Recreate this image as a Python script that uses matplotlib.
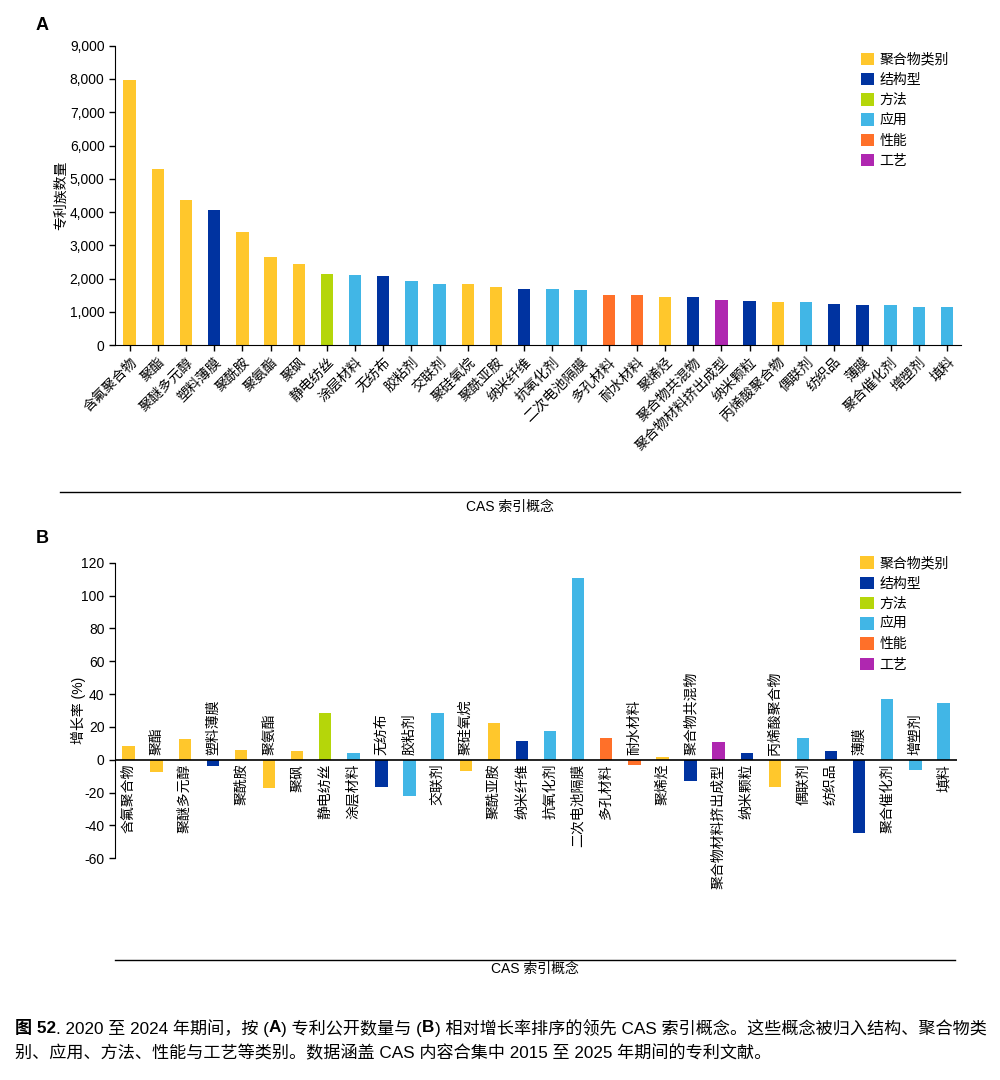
import numpy as np
import matplotlib
matplotlib.use("Agg")
import matplotlib.pyplot as plt
from matplotlib.patches import Patch
from matplotlib.lines import Line2D
from matplotlib.ticker import FuncFormatter

plt.rcParams['font.family'] = ['Liberation Sans', 'Noto Sans CJK SC', 'DejaVu Sans']
plt.rcParams['axes.unicode_minus'] = False

# data
concepts = ['含氟聚合物', '聚酯', '聚醚多元醇', '塑料薄膜', '聚酰胺', '聚氨酯', '聚砜', '静电纺丝',
            '涂层材料', '无纺布', '胶粘剂', '交联剂', '聚硅氧烷', '聚酰亚胺', '纳米纤维', '抗氧化剂',
            '二次电池隔膜', '多孔材料', '耐水材料', '聚烯烃', '聚合物共混物', '聚合物材料挤出成型',
            '纳米颗粒', '丙烯酸聚合物', '偶联剂', '纺织品', '薄膜', '聚合催化剂', '增塑剂', '填料']
category = ['聚合物类别', '聚合物类别', '聚合物类别', '结构型', '聚合物类别', '聚合物类别', '聚合物类别', '方法',
            '应用', '结构型', '应用', '应用', '聚合物类别', '聚合物类别', '结构型', '应用',
            '应用', '性能', '性能', '聚合物类别', '结构型', '工艺',
            '结构型', '聚合物类别', '应用', '结构型', '结构型', '应用', '应用', '应用']
patent_count = [7970, 5310, 4360, 4060, 3400, 2650, 2440, 2140, 2110, 2080, 1930, 1840, 1840, 1750,
                1690, 1690, 1660, 1510, 1510, 1450, 1450, 1360, 1330, 1300, 1300, 1240, 1210, 1210,
                1150, 1150]
growth = [8.6, -7.7, 12.8, -4.1, 6.1, -17.5, 5.1, 28.7, 4.3, -16.9, -21.8, 28.7, -7.1, 22.6,
          11.6, 17.7, 110.6, 13.4, -2.9, 1.8, -13.2, 10.6, 4.3, -16.9, 13.4, 5.5, -44.4, 36.7,
          -6.5, 34.8]

cat_names = ['聚合物类别', '结构型', '方法', '应用', '性能', '工艺']
cat_colors = ['#FFC72C', '#0033A0', '#B5D60A', '#41B6E6', '#FF7029', '#AF27B0']
cmap = dict(zip(cat_names, cat_colors))
colors = [cmap[c] for c in category]

x = np.arange(len(concepts))
fig = plt.figure(figsize=(10, 10.8), dpi=100)

def legend(ax, x0, y0):
    handles = [Patch(facecolor=c, edgecolor='none') for c in cat_colors]
    ax.legend(handles, cat_names, loc='upper left', bbox_to_anchor=(x0, y0),
              frameon=False, fontsize=10, handlelength=1.0, handleheight=1.0,
              handletextpad=0.35, labelspacing=0.45, borderpad=0)

# panel A
axA = fig.add_axes([0.115, 0.6803, 0.846, 0.2774])
axA.bar(x, patent_count, width=0.44, color=colors)
axA.set_xlim(-0.52, 29.5)
axA.set_ylim(0, 9000)
axA.set_yticks(np.arange(0, 9001, 1000))
axA.yaxis.set_major_formatter(FuncFormatter(lambda v, p: f'{int(v):,}'))
axA.set_xticks(x)
axA.set_xticklabels(concepts, rotation=45, ha='right', va='top', rotation_mode='anchor')
axA.tick_params(axis='both', labelsize=10, length=4, width=1, direction='out')
axA.tick_params(axis='x', pad=3)
for s in ['top', 'right']:
    axA.spines[s].set_visible(False)
axA.set_ylabel('专利族数量', fontsize=10, labelpad=1)
legend(axA, 0.873, 1.0)

# panel B
axB = fig.add_axes([0.115, 0.2053, 0.842, 0.2737])
axB.bar(x, growth, width=0.44, color=colors)
axB.set_xlim(-0.48, 29.48)
axB.set_ylim(-60, 120)
axB.set_yticks(np.arange(-60, 121, 20))
axB.set_xticks([])
axB.axhline(0, color='black', lw=1.2)
axB.tick_params(axis='y', labelsize=10, length=4, width=1)
for s in ['top', 'right', 'bottom']:
    axB.spines[s].set_visible(False)
axB.set_ylabel('增长率 (%)', fontsize=10, labelpad=-3)
for xi, name, g in zip(x, concepts, growth):
    if g >= 0:
        axB.text(xi, -2.5, name, rotation=90, ha='center', va='top', fontsize=10)
    else:
        axB.text(xi, 3, name, rotation=90, ha='center', va='bottom', fontsize=10)
legend(axB, 0.877, 1.045)

# rules, axis titles, panel letters
fig.add_artist(Line2D([0.06, 0.96], [1 - 492 / 1080] * 2, color='black', lw=1))
fig.text(0.51, 1 - 507 / 1080, 'CAS 索引概念', ha='center', va='center', fontsize=10)
fig.add_artist(Line2D([0.115, 0.955], [1 - 960 / 1080] * 2, color='black', lw=1))
fig.text(0.535, 1 - 969 / 1080, 'CAS 索引概念', ha='center', va='center', fontsize=10)
fig.text(0.036, 1 - 25 / 1080, 'A', fontsize=13, fontweight='bold', va='center')
fig.text(0.036, 1 - 538 / 1080, 'B', fontsize=13, fontweight='bold', va='center')

# caption with bold pieces
renderer = fig.canvas.get_renderer()
def rich_line(x0, y0, parts):
    xx = x0
    for s, w in parts:
        t = fig.text(xx, y0, s, fontweight=w, fontsize=12.3, va='center', ha='left')
        bb = t.get_window_extent(renderer=renderer)
        xx += bb.width / fig.bbox.width

rich_line(0.015, 1 - 1028 / 1080, [
    ('图 52', 'bold'), ('. 2020 至 2024 年期间，按 (', 'normal'), ('A', 'bold'),
    (') 专利公开数量与 (', 'normal'), ('B', 'bold'),
    (') 相对增长率排序的领先 CAS 索引概念。这些概念被归入结构、聚合物类', 'normal')])
rich_line(0.015, 1 - 1053 / 1080, [
    ('别、应用、方法、性能与工艺等类别。数据涵盖 CAS 内容合集中 2015 至 2025 年期间的专利文献。', 'normal')])

fig.savefig('out.png', dpi=100)
